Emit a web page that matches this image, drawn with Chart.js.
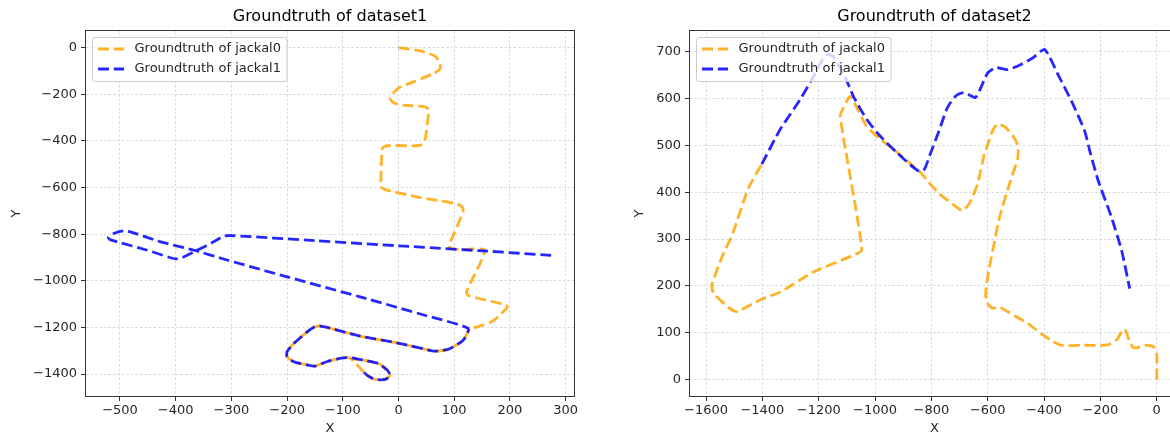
<!DOCTYPE html>
<html>
<head>
<meta charset="utf-8">
<script src="https://cdn.jsdelivr.net/npm/chart.js@4.4.1/dist/chart.umd.min.js"></script>
<style>
html, body { margin: 0; padding: 0; background: #fff; overflow: hidden; width: 1170px; height: 436px; }
canvas { position: absolute; top: 0; }
#chart1 { left: 0; }
#chart2 { left: 590px; }
</style>
</head>
<body>
<canvas id="chart1" width="590" height="436"></canvas>
<canvas id="chart2" width="600" height="436"></canvas>
<script>
// dataset1 - jackal0 (orange)
const d1Jackal0X = [0, 39, 66, 73, 75, 63, 27, 3, -10, -15, -9, 9, 48, 54, 48, 44, 33, -21, -29, -31,
    -21, 33, 105, 115, 116, 91, 93, 116, 155, 122, 125, 193, 195, 182, 167, 146, 128, 116, 92, 74,
    60, 3, -69, -128, -140, -150, -164, -188, -200, -200, -188, -164, -150, -129, -105, -89, -80, -68, -56, -42,
    -24, -15, -20, -36, -62, -80];
const d1Jackal0Y = [0, -14, -37, -61, -90, -111, -147, -169, -197, -219, -237, -247, -254, -269, -390, -414, -421, -421, -433, -597,
    -611, -640, -671, -686, -704, -847, -861, -866, -869, -1046, -1063, -1104, -1114, -1147, -1176, -1194, -1209, -1255, -1291, -1301,
    -1300, -1269, -1237, -1200, -1194, -1197, -1219, -1269, -1304, -1326, -1347, -1361, -1366, -1347, -1333, -1329, -1345, -1377, -1406, -1423,
    -1423, -1406, -1384, -1355, -1341, -1336];

// dataset1 - jackal1 (blue)
const d1Jackal1X = [274, 160, 0, -150, -300, -314, -332, -367, -388, -400, -412, -451, -505, -518, -521, -511, -493, -481, -427, -367,
    -308, -200, -69, 50, 125, 116, 92, 74, 60, 3, -69, -128, -140, -150, -164, -188, -200, -200, -188, -164,
    -150, -129, -105, -89, -62, -36, -20, -15, -24, -42, -56, -68];
const d1Jackal1Y = [-891, -873, -850, -828, -806, -809, -833, -876, -900, -906, -899, -869, -833, -823, -813, -797, -786, -790, -833, -869,
    -911, -983, -1069, -1150, -1204, -1255, -1291, -1301, -1300, -1269, -1237, -1200, -1194, -1197, -1219, -1269, -1304, -1326, -1347, -1361,
    -1366, -1347, -1333, -1329, -1341, -1355, -1384, -1406, -1423, -1423, -1406, -1377];

// dataset2 - jackal0 (orange)
const d2Jackal0X = [0, 0, -12, -38, -68, -84, -98, -113, -124, -140, -162, -184, -260, -340, -376, -411, -459, -530, -559, -583,
    -600, -607, -605, -594, -577, -558, -520, -493, -493, -511, -540, -565, -583, -598, -612, -636, -666, -690, -719, -772,
    -811, -840, -935, -985, -1030, -1060, -1089, -1112, -1124, -1047, -1079, -1217, -1336, -1407, -1490, -1515, -1573, -1579, -1543, -1506,
    -1450, -1402];
const d2Jackal0Y = [0, 55, 70, 73, 68, 68, 84, 107, 102, 86, 77, 73, 73, 73, 84, 98, 120, 145, 155, 152,
    162, 177, 200, 240, 291, 347, 423, 474, 499, 521, 540, 546, 531, 505, 482, 418, 375, 361, 372, 397,
    422, 443, 492, 515, 541, 575, 605, 580, 563, 277, 265, 230, 187, 170, 145, 151, 184, 202, 262, 311,
    408, 460];

// dataset2 - jackal1 (blue)
const d2Jackal1X = [-1402, -1337, -1266, -1219, -1184, -1166, -1148, -1112, -1077, -1030, -982, -923, -864, -840, -824, -802, -773, -743, -713, -684,
    -660, -644, -630, -600, -571, -529, -482, -440, -398, -351, -303, -256, -238, -208, -161, -125, -96];
const d2Jackal1Y = [460, 534, 598, 647, 686, 695, 689, 654, 605, 556, 520, 485, 453, 444, 450, 485, 531, 581, 606, 613,
    606, 602, 616, 655, 666, 662, 673, 687, 705, 652, 595, 531, 489, 425, 347, 276, 194];

// axis limits and tick values
const d1XLim = [-561, 315], d1YLim = [-1494, 71];
const d2XLim = [-1657, 79], d2YLim = [-35.5, 744.5];
const d1XTicks = [-500, -400, -300, -200, -100, 0, 100, 200, 300];
const d1YTicks = [-1400, -1200, -1000, -800, -600, -400, -200, 0];
const d2XTicks = [-1600, -1400, -1200, -1000, -800, -600, -400, -200, 0];
const d2YTicks = [0, 100, 200, 300, 400, 500, 600, 700];

const labels = ['Groundtruth of jackal0', 'Groundtruth of jackal1'];
const titles = ['Groundtruth of dataset1', 'Groundtruth of dataset2'];

const ORANGE = 'rgba(255,165,0,0.85)';
const BLUE = 'rgba(0,0,255,0.85)';
const TEXT = '#262626';

Chart.defaults.font.family = '"DejaVu Sans", sans-serif';
Chart.defaults.color = TEXT;

function pts(xs, ys) {
    return xs.map((x, i) => ({ x: x, y: ys[i] }));
}

function minusLabel(v) {
    return v < 0 ? '\u2212' + Math.abs(v) : String(v);
}

// matplotlib style box around the plot
const framePlugin = {
    id: 'frame',
    afterDatasetsDraw(chart) {
        const { ctx, chartArea: ca } = chart;
        ctx.save();
        ctx.strokeStyle = '#333';
        ctx.lineWidth = 1;
        ctx.strokeRect(Math.round(ca.left) - 0.5, Math.round(ca.top) - 0.5,
            Math.round(ca.right - ca.left) + 1, Math.round(ca.bottom - ca.top) + 1);
        ctx.restore();
    }
};

// legend in upper left, drawn on top of the lines
const boxLegend = {
    id: 'boxLegend',
    afterDraw(chart) {
        const { ctx, chartArea: ca } = chart;
        const items = chart.data.datasets;
        ctx.save();
        ctx.font = '13px "DejaVu Sans"';
        const tw = Math.max(...items.map(d => ctx.measureText(d.label).width));
        const bx = ca.left + 6.5, by = ca.top + 6.5, bw = 42 + tw + 6, bh = 44;
        ctx.beginPath();
        if (ctx.roundRect) ctx.roundRect(bx, by, bw, bh, 3); else ctx.rect(bx, by, bw, bh);
        ctx.fillStyle = 'rgba(255,255,255,0.8)';
        ctx.fill();
        ctx.strokeStyle = '#cccccc';
        ctx.lineWidth = 1;
        ctx.stroke();
        items.forEach((d, i) => {
            const y = by + 11.5 + i * 20;
            ctx.beginPath();
            ctx.setLineDash(d.borderDash);
            ctx.strokeStyle = d.borderColor;
            ctx.lineWidth = d.borderWidth;
            ctx.moveTo(bx + 5.5, y);
            ctx.lineTo(bx + 31.5, y);
            ctx.stroke();
            ctx.setLineDash([]);
            ctx.fillStyle = TEXT;
            ctx.textBaseline = 'middle';
            ctx.textAlign = 'left';
            ctx.fillText(d.label, bx + 42, y);
        });
        ctx.restore();
    }
};

function lineSet(label, data, color, order) {
    return {
        label: label,
        data: data,
        borderColor: color,
        backgroundColor: color,
        borderWidth: 2.8,
        borderDash: [11, 4.8],
        borderCapStyle: 'butt',
        borderJoinStyle: 'round',
        pointRadius: 0,
        showLine: true,
        fill: false,
        tension: 0.2,
        order: order
    };
}

function makeChart(id, title, sets, xLim, yLim, xTicks, yTicks, yWidth, yTitlePad, padRight) {
    return new Chart(document.getElementById(id), {
        type: 'scatter',
        data: { datasets: sets },
        options: {
            responsive: false,
            animation: false,
            events: [],
            layout: { padding: { left: 0, right: padRight, top: 0, bottom: 0 } },
            scales: {
                x: {
                    type: 'linear',
                    min: xLim[0],
                    max: xLim[1],
                    afterBuildTicks: s => { s.ticks = xTicks.map(v => ({ value: v })); },
                    afterFit: s => { s.height = 40; },
                    grid: { color: '#d0d0d0', lineWidth: 0.8, tickColor: '#333', tickWidth: 1, tickLength: 5 },
                    border: { display: false, dash: [2.5, 2] },
                    ticks: { autoSkip: false, maxRotation: 0, padding: 2,
                        font: { size: 13 }, color: TEXT, callback: minusLabel },
                    title: { display: true, text: 'X', font: { size: 13 }, color: TEXT, padding: 0 }
                },
                y: {
                    type: 'linear',
                    min: yLim[0],
                    max: yLim[1],
                    afterBuildTicks: s => { s.ticks = yTicks.map(v => ({ value: v })); },
                    afterFit: s => { s.width = yWidth; },
                    grid: { color: '#d0d0d0', lineWidth: 0.8, tickColor: '#333', tickWidth: 1, tickLength: 5 },
                    border: { display: false, dash: [2.5, 2] },
                    ticks: { autoSkip: false, padding: 4,
                        font: { size: 13 }, color: TEXT, callback: minusLabel },
                    title: { display: true, text: 'Y', font: { size: 13 }, color: TEXT, padding: { top: yTitlePad, bottom: 0 } }
                }
            },
            plugins: {
                legend: { display: false },
                tooltip: { enabled: false },
                title: {
                    display: true,
                    text: title,
                    fullSize: false,
                    color: '#000',
                    font: { size: 16, weight: 'normal' },
                    padding: { top: 7, bottom: 4.8 }
                }
            }
        },
        plugins: [framePlugin, boxLegend]
    });
}

makeChart('chart1', titles[0], [
    lineSet(labels[0], pts(d1Jackal0X, d1Jackal0Y), ORANGE, 1),
    lineSet(labels[1], pts(d1Jackal1X, d1Jackal1Y), BLUE, 0)
], d1XLim, d1YLim, d1XTicks, d1YTicks, 86, 9.2, 16);

makeChart('chart2', titles[1], [
    lineSet(labels[0], pts(d2Jackal0X, d2Jackal0Y), ORANGE, 1),
    lineSet(labels[1], pts(d2Jackal1X, d2Jackal1Y), BLUE, 0)
], d2XLim, d2YLim, d2XTicks, d2YTicks, 100, 42.2, 11);
</script>
</body>
</html>
